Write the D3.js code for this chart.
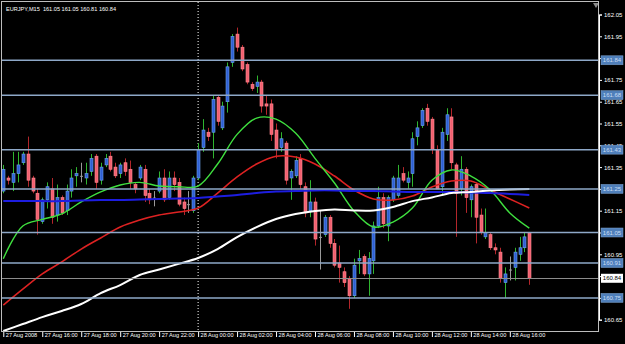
<!DOCTYPE html>
<html>
<head>
<meta charset="utf-8">
<title>EURJPY,M15</title>
<script src="https://d3js.org/d3.v7.min.js"></script>
<style>
    body { margin: 0; background: #000; }
    svg { display: block; }
    text { font-family: "Liberation Sans", Arial, sans-serif; }
</style>
</head>
<body>
<svg id="chart" width="625" height="344"></svg>
<script>
// EURJPY M15, bars from 27 Aug 2008 14:00 to 28 Aug 17:00 (index = bar number)
let opens = [161.24,161.30,161.28,161.32,161.37,161.41,161.30,161.23,161.10,161.20,
    161.25,161.13,161.21,161.15,161.24,161.31,161.31,161.30,161.33,161.40,
    161.29,161.36,161.40,161.35,161.32,161.37,161.34,161.27,161.30,161.34,
    161.23,161.21,161.24,161.30,161.21,161.30,161.28,161.19,161.18,161.15,
    161.30,161.44,161.51,161.51,161.67,161.53,161.65,161.83,161.96,161.90,
    161.82,161.73,161.72,161.74,161.64,161.64,161.52,161.44,161.46,161.30,
    161.31,161.39,161.26,161.15,161.19,161.03,161.04,161.12,161.00,160.91,
    160.87,160.84,160.76,160.92,160.94,160.86,160.92,161.08,161.21,161.08,
    161.20,161.22,161.32,161.28,161.32,161.49,161.54,161.62,161.57,161.43,
    161.26,161.50,161.58,161.36,161.25,161.34,161.20,161.27,161.13,161.03,
    161.04,160.98,160.96,160.82,160.88,160.89,160.95,160.98,161.05]
let highs = [161.36,161.31,161.42,161.42,161.42,161.49,161.31,161.25,161.21,161.28,
    161.30,161.27,161.22,161.27,161.34,161.35,161.37,161.37,161.41,161.41,
    161.37,161.41,161.42,161.37,161.37,161.39,161.38,161.28,161.36,161.36,
    161.25,161.24,161.33,161.34,161.33,161.33,161.30,161.21,161.24,161.31,
    161.46,161.57,161.53,161.68,161.68,161.65,161.83,161.96,161.99,161.91,
    161.83,161.74,161.77,161.75,161.68,161.66,161.55,161.51,161.47,161.34,
    161.40,161.41,161.28,161.29,161.21,161.15,161.13,161.13,161.02,160.99,
    160.89,160.85,160.93,160.97,160.95,160.96,161.10,161.26,161.23,161.22,
    161.31,161.36,161.35,161.33,161.51,161.56,161.62,161.64,161.58,161.45,
    161.53,161.62,161.62,161.37,161.40,161.35,161.27,161.28,161.16,161.16,
    161.05,161.00,160.98,160.89,160.94,160.98,161.03,161.05,161.05]
let lows = [161.23,161.27,161.24,161.28,161.36,161.26,161.23,161.04,161.09,161.16,
    161.09,161.10,161.13,161.13,161.21,161.26,161.28,161.27,161.31,161.25,
    161.27,161.35,161.33,161.30,161.30,161.31,161.25,161.23,161.29,161.19,
    161.18,161.17,161.23,161.19,161.20,161.24,161.17,161.13,161.14,161.14,
    161.29,161.42,161.47,161.39,161.54,161.52,161.60,161.81,161.88,161.79,
    161.73,161.70,161.69,161.60,161.59,161.47,161.39,161.42,161.27,161.20,
    161.30,161.25,161.12,161.12,160.99,160.88,161.03,160.98,160.89,160.82,
    160.80,160.70,160.75,160.86,160.85,160.76,160.86,161.07,161.07,161.01,
    161.19,161.21,161.28,161.25,161.26,161.45,161.53,161.54,161.41,161.25,
    161.22,161.47,161.34,161.03,161.22,161.14,161.12,161.00,161.04,161.02,
    160.97,160.95,160.82,160.75,160.83,160.83,160.92,160.96,160.81]
let closes = [161.34,161.29,161.32,161.36,161.41,161.29,161.24,161.11,161.20,161.26,
    161.12,161.21,161.14,161.24,161.30,161.32,161.31,161.32,161.39,161.28,
    161.35,161.39,161.34,161.31,161.36,161.33,161.28,161.25,161.35,161.22,
    161.20,161.21,161.30,161.20,161.30,161.27,161.18,161.16,161.18,161.30,
    161.43,161.52,161.49,161.66,161.56,161.63,161.81,161.95,161.90,161.80,
    161.74,161.71,161.74,161.63,161.63,161.50,161.43,161.48,161.29,161.33,
    161.38,161.27,161.14,161.19,161.02,161.03,161.12,161.00,160.90,160.89,
    160.82,160.76,160.90,160.93,160.86,160.93,161.08,161.21,161.09,161.21,
    161.30,161.30,161.29,161.30,161.48,161.53,161.61,161.56,161.43,161.25,
    161.51,161.59,161.37,161.23,161.34,161.21,161.26,161.12,161.05,161.05,
    160.98,160.97,160.84,160.86,160.88,160.96,160.98,161.03,160.84]

// moving averages, every 4 bars
let maBars = [0,4,8,12,16,20,24,28,32,36,40,44,48,52,56,60,64,68,72,76,80,84,88,92,96,100,104,108]
let maGreen = [160.93,161.08,161.11,161.135,161.19,161.236,161.268,161.28,161.263,161.26,161.263,161.364,161.50,161.575,
    161.57,161.506,161.39,161.277,161.149,161.075,161.098,161.162,161.29,161.337,161.309,161.245,161.14,161.07]
let maRed = [160.717,160.79,160.86,160.915,160.974,161.025,161.075,161.107,161.13,161.144,161.162,161.231,161.305,161.364,
    161.40,161.396,161.364,161.309,161.245,161.204,161.199,161.217,161.259,161.286,161.286,161.245,161.204,161.162]
let maBlue = [161.194,161.194,161.194,161.194,161.197,161.199,161.199,161.201,161.204,161.206,161.208,161.215,161.222,161.231,
    161.238,161.24,161.243,161.243,161.24,161.24,161.238,161.236,161.236,161.236,161.233,161.231,161.227,161.222]
let maWhite = [160.598,160.63,160.662,160.69,160.722,160.772,160.809,160.855,160.88,160.906,160.933,160.974,161.029,161.075,
    161.112,161.135,161.149,161.156,161.151,161.151,161.167,161.194,161.211,161.231,161.236,161.243,161.247,161.249]

let levels = [161.84, 161.68, 161.43, 161.25, 161.05, 160.91, 160.75]
let bid = 160.84
let priceTicks = [162.05,161.95,161.85,161.75,161.65,161.55,161.45,161.35,161.25,161.15,161.05,160.95,160.85,160.75,160.65]
let timeTicks = [0,8,16,24,32,40,48,56,64,72,80,88,96,104]
let timeLabels = ["27 Aug 2008","27 Aug 16:00","27 Aug 18:00","27 Aug 20:00","27 Aug 22:00","28 Aug 00:00","28 Aug 02:00",
    "28 Aug 04:00","28 Aug 06:00","28 Aug 08:00","28 Aug 10:00","28 Aug 12:00","28 Aug 14:00","28 Aug 16:00"]
let dayBreak = 40
let header = "EURJPY,M15  161.05 161.05 160.81 160.84"

let svg = d3.select("#chart")
let plotL = 2, plotT = 2, plotR = 599, plotB = 332

let x = d3.scaleLinear().domain([0, 108]).range([3.3, 529.3])
let y = d3.scaleLinear().domain([160.65, 162.05]).range([319.7, 14.5])

svg.append("rect").attr("width", 625).attr("height", 344).attr("fill", "#000")

svg.append("defs").append("clipPath").attr("id", "plot")
    .append("rect").attr("x", plotL).attr("y", plotT).attr("width", plotR - plotL).attr("height", plotB - plotT)

let plot = svg.append("g").attr("clip-path", "url(#plot)")

// period separator
plot.append("line")
    .attr("x1", x(dayBreak)).attr("x2", x(dayBreak))
    .attr("y1", plotT).attr("y2", plotB)
    .attr("stroke", "#fff").attr("stroke-dasharray", "1,2")

// candles
let bars = opens.map((o, i) => ({i: i, o: o, h: highs[i], l: lows[i], c: closes[i]}))
let candle = plot.append("g").selectAll("g").data(bars).enter().append("g")

candle.append("line")
    .attr("x1", d => Math.round(x(d.i)) + 0.5).attr("x2", d => Math.round(x(d.i)) + 0.5)
    .attr("y1", d => y(d.h)).attr("y2", d => y(d.l))
    .attr("stroke", d => d.c > d.o ? "#2fb52f" : d.c < d.o ? "#b3262b" : "#9a9a9a")

candle.append("rect")
    .attr("x", d => Math.round(x(d.i)) - 1)
    .attr("width", 3)
    .attr("y", d => y(Math.max(d.o, d.c)))
    .attr("height", d => Math.max(1, Math.abs(y(d.o) - y(d.c))))
    .attr("fill", d => d.c > d.o ? "#2f5fd3" : d.c < d.o ? "#f2606f" : "#9a9a9a")
    .attr("stroke", d => d.c > d.o ? "#6fa6ea" : d.c < d.o ? "#ff8c96" : "none")
    .attr("stroke-width", 0.6)

// moving averages
let maLine = vals => d3.line()
    .x((d, k) => x(maBars[k]))
    .y(d => y(d))
    .curve(d3.curveCatmullRom.alpha(0.5))(vals)

plot.append("path").attr("d", maLine(maRed)).attr("fill", "none").attr("stroke", "#dd2222").attr("stroke-width", 1.6)
plot.append("path").attr("d", maLine(maGreen)).attr("fill", "none").attr("stroke", "#3fe03f").attr("stroke-width", 1.4)
plot.append("path").attr("d", maLine(maBlue)).attr("fill", "none").attr("stroke", "#1d1de0").attr("stroke-width", 2)
plot.append("path").attr("d", maLine(maWhite)).attr("fill", "none").attr("stroke", "#ffffff").attr("stroke-width", 2)

// horizontal levels
plot.selectAll(".level").data(levels).enter().append("line")
    .attr("class", "level")
    .attr("x1", plotL).attr("x2", plotR)
    .attr("y1", d => y(d)).attr("y2", d => y(d))
    .attr("stroke", "#8ea8c8").attr("stroke-width", 1.5)

plot.append("line")
    .attr("x1", plotL).attr("x2", plotR)
    .attr("y1", Math.round(y(bid)) + 0.5).attr("y2", Math.round(y(bid)) + 0.5)
    .attr("stroke", "#8c8c8c").attr("stroke-width", 1)

// chart shift marker
svg.append("path")
    .attr("d", `M${plotR - 6},${plotT + 1}L${plotR},${plotT + 1}L${plotR - 3},${plotT + 6}Z`)
    .attr("fill", "#8c8c8c")

// frame
svg.append("rect")
    .attr("x", plotL - 0.5).attr("y", plotT - 0.5)
    .attr("width", plotR - plotL).attr("height", plotB - plotT)
    .attr("fill", "none").attr("stroke", "#bdbdbd")

// price scale
let yAxis = svg.append("g")
    .attr("transform", `translate(${plotR},0)`)
    .call(d3.axisRight(y).tickValues(priceTicks).tickSize(3).tickPadding(2).tickFormat(d3.format(".2f")))
yAxis.select(".domain").attr("stroke", "#fff")
yAxis.selectAll(".tick line").attr("stroke", "#fff")
yAxis.selectAll("text").attr("fill", "#fff").attr("font-size", "6px").style("font-family", "Liberation Sans, Arial, sans-serif")

// level labels on the scale
let tags = svg.append("g").selectAll("g").data(levels).enter().append("g")
    .attr("transform", d => `translate(601,${y(d)})`)
tags.append("rect").attr("x", 0).attr("y", -4.5).attr("width", 22).attr("height", 9)
    .attr("fill", "#4f7fba").attr("stroke", "#7fa3cf").attr("stroke-width", 0.5)
tags.append("text").attr("x", 11).attr("y", 2.2).attr("text-anchor", "middle")
    .attr("font-size", "6px").attr("fill", "#c9def5").text(d => d3.format(".2f")(d))

let bidTag = svg.append("g").attr("transform", `translate(601,${y(bid)})`)
bidTag.append("rect").attr("x", 0).attr("y", -4.5).attr("width", 22).attr("height", 9).attr("fill", "#fff")
bidTag.append("text").attr("x", 11).attr("y", 2.2).attr("text-anchor", "middle")
    .attr("font-size", "6px").attr("fill", "#000").text(d3.format(".2f")(bid))

// time scale
let xAxis = svg.append("g")
    .attr("transform", `translate(0,${plotB})`)
    .call(d3.axisBottom(x).tickValues(timeTicks).tickSize(5).tickFormat((d, i) => timeLabels[i]))
xAxis.select(".domain").remove()
xAxis.selectAll(".tick line").attr("stroke", "#fff")
xAxis.selectAll("text").attr("fill", "#fff").attr("font-size", "5.6px")
    .attr("text-anchor", "start").attr("x", 2).attr("y", 1).attr("dy", "0.71em")
    .style("font-family", "Liberation Sans, Arial, sans-serif")

// header
svg.append("text").attr("x", 6).attr("y", 11)
    .attr("fill", "#fff").attr("font-size", "5.6px")
    .style("white-space", "pre")
    .text(header)
</script>
</body>
</html>
